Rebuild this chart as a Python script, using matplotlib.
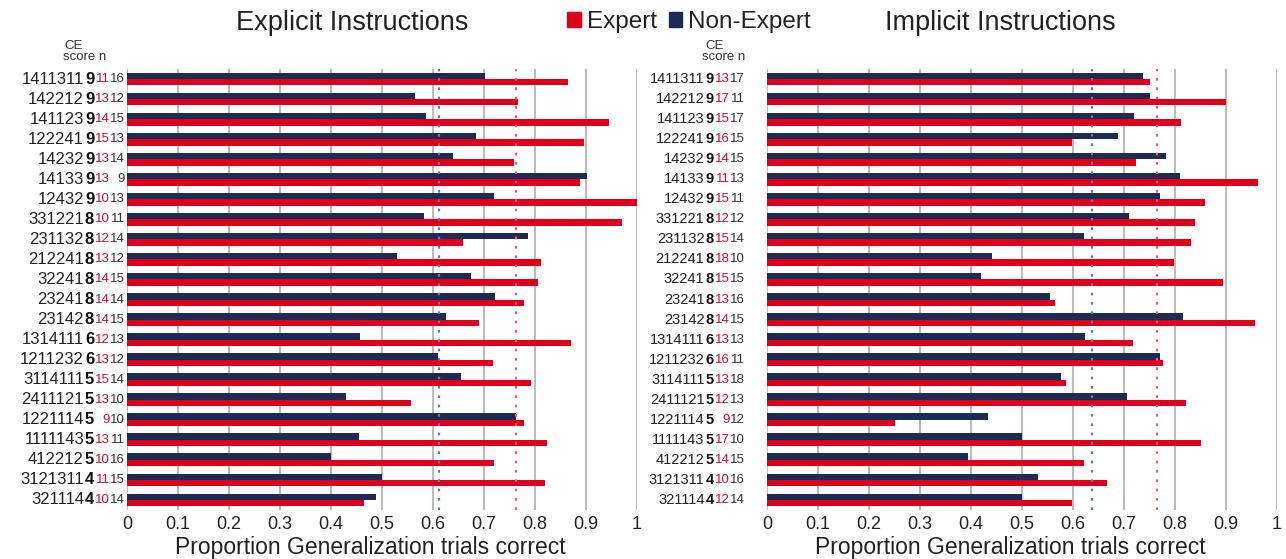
import numpy as np
import matplotlib
matplotlib.use('Agg')
from matplotlib import pyplot as plt
from matplotlib.patches import Patch

plt.rcParams['font.family'] = ['Liberation Sans', 'DejaVu Sans']

configs = ['1411311', '142212', '141123', '122241', '14232', '14133', '12432',
           '331221', '231132', '212241', '32241', '23241', '23142', '1314111',
           '1211232', '3114111', '2411121', '1221114', '1111143', '412212',
           '3121311', '321114']
ce_score = [9, 9, 9, 9, 9, 9, 9, 8, 8, 8, 8, 8, 8, 6, 6, 5, 5, 5, 5, 5, 4, 4]

# explicit instructions
exp_n_expert = [11, 13, 14, 15, 13, 13, 10, 10, 12, 13, 14, 14, 14, 12, 13, 15, 13, 9, 13, 10, 11, 10]
exp_n_nonexp = [16, 12, 15, 13, 14, 9, 13, 11, 14, 12, 15, 14, 15, 13, 12, 14, 10, 10, 11, 16, 15, 14]
exp_expert = [0.864, 0.766, 0.945, 0.897, 0.759, 0.889, 1.0, 0.970, 0.658, 0.811, 0.806,
              0.778, 0.690, 0.870, 0.717, 0.792, 0.556, 0.778, 0.824, 0.720, 0.819, 0.464]
exp_nonexp = [0.701, 0.564, 0.586, 0.684, 0.639, 0.901, 0.720, 0.582, 0.787, 0.529, 0.674,
              0.721, 0.625, 0.456, 0.610, 0.655, 0.430, 0.763, 0.454, 0.400, 0.500, 0.488]
exp_mean_expert = 0.763
exp_mean_nonexp = 0.612

# implicit instructions
imp_n_expert = [13, 17, 15, 16, 14, 11, 15, 12, 15, 18, 15, 13, 14, 13, 16, 13, 12, 9, 17, 14, 10, 12]
imp_n_nonexp = [17, 11, 17, 15, 15, 13, 11, 12, 14, 10, 15, 16, 15, 13, 11, 18, 13, 12, 10, 15, 16, 14]
imp_expert = [0.750, 0.900, 0.812, 0.599, 0.724, 0.963, 0.858, 0.839, 0.831, 0.799, 0.895,
              0.565, 0.957, 0.718, 0.777, 0.586, 0.822, 0.250, 0.850, 0.621, 0.667, 0.599]
imp_nonexp = [0.737, 0.750, 0.720, 0.688, 0.783, 0.809, 0.771, 0.710, 0.621, 0.441, 0.419,
              0.554, 0.815, 0.623, 0.771, 0.576, 0.705, 0.433, 0.500, 0.395, 0.532, 0.500]
imp_mean_expert = 0.765
imp_mean_nonexp = 0.638

red = '#e0001b'
navy = '#1d2a52'

fig = plt.figure(figsize=(12.86, 5.59), dpi=100)
ax1 = fig.add_axes([127 / 1286, 1 - 510 / 559, 510 / 1286, 441 / 559])
ax2 = fig.add_axes([767 / 1286, 1 - 510 / 559, 510 / 1286, 441 / 559])


def panel(ax, expert, nonexp, n_exp, n_non, m_exp, m_non, offs, lsize, nsize):
    y = np.arange(len(configs))
    ax.barh(y - 0.16, nonexp, height=0.32, color=navy, zorder=3)
    ax.barh(y + 0.16, expert, height=0.32, color=red, zorder=3)
    for g in np.arange(0, 1.01, 0.1):
        ax.axvline(g, color='#bcbcbc', lw=1.5, zorder=1)
    ax.axvline(m_non, color='#6a78a8', lw=1.6, ls=(0, (1.2, 3)), zorder=4)
    ax.axvline(m_exp, color='#e8606e', lw=1.6, ls=(0, (1.2, 3)), zorder=4)
    ax.set_xlim(0, 1.0)
    ax.set_ylim(len(configs) - 0.5, -0.5)
    for s in ax.spines.values():
        s.set_visible(False)
    ax.set_yticks([])
    ax.set_xticks(np.arange(0, 1.01, 0.1))
    ax.set_xticklabels(['0', '0.1', '0.2', '0.3', '0.4', '0.5', '0.6', '0.7', '0.8', '0.9', '1'])
    ax.tick_params(axis='x', length=0, labelsize=13, pad=4, colors='#222222')
    ax.set_xlabel('Proportion Generalization trials correct', fontsize=16.5,
                  color='#222222')
    ax.xaxis.set_label_coords(0.478, -0.058)
    tr = ax.get_yaxis_transform()
    w = 510.0
    for i in range(len(configs)):
        ax.text(offs[0] / w, i, configs[i], transform=tr, ha='right', va='center',
                fontsize=lsize, color='#222222', clip_on=False)
        ax.text(offs[1] / w, i, str(ce_score[i]), transform=tr, ha='center', va='center',
                fontsize=lsize, fontweight='bold', color='#111111', clip_on=False)
        ax.text(offs[2] / w, i, str(n_exp[i]), transform=tr, ha='right', va='center',
                fontsize=nsize, color='#c8102e', clip_on=False)
        ax.text(offs[3] / w, i, str(n_non[i]), transform=tr, ha='right', va='center',
                fontsize=nsize, color='#333333', clip_on=False)
    ax.text(offs[4] / w, -1.65, 'CE', transform=tr, ha='center', va='center',
            fontsize=9.5, color='#333333', clip_on=False)
    ax.text(offs[5] / w, -1.1, 'score n', transform=tr, ha='center', va='center',
            fontsize=9.5, color='#333333', clip_on=False)


panel(ax1, exp_expert, exp_nonexp, exp_n_expert, exp_n_nonexp,
      exp_mean_expert, exp_mean_nonexp, [-43, -37.5, -17, -2, -53, -42], 12, 9.5)
panel(ax2, imp_expert, imp_nonexp, imp_n_expert, imp_n_nonexp,
      imp_mean_expert, imp_mean_nonexp, [-62.5, -57, -37, -22, -52, -43], 10.5, 9.5)

fig.text(352 / 1286, 1 - 23 / 559, 'Explicit Instructions', ha='center', va='center',
         fontsize=19.5, color='#222222')
fig.text(1000 / 1286, 1 - 23 / 559, 'Implicit Instructions', ha='center', va='center',
         fontsize=19.5, color='#222222')

handles = [Patch(color=red, label='Expert'), Patch(color=navy, label='Non-Expert')]
fig.legend(handles=handles, loc='center', bbox_to_anchor=(689 / 1286, 1 - 22 / 559),
           ncol=2, frameon=False, fontsize=17.5, handlelength=0.55, handleheight=0.55,
           handletextpad=0.25, columnspacing=0.5, labelcolor='#222222',
           borderpad=0.2)

fig.savefig('out.png', dpi=100)
